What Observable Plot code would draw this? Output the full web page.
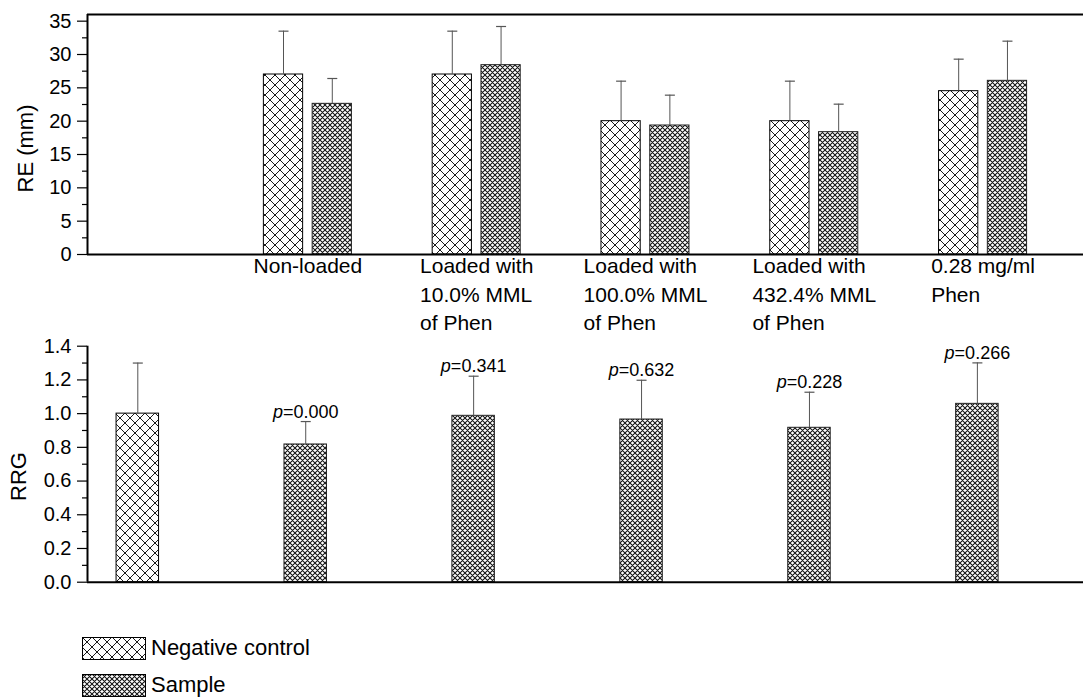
<!DOCTYPE html>
<html><head><meta charset="utf-8">
<script src="https://cdn.jsdelivr.net/npm/d3@7"></script>
<script src="https://cdn.jsdelivr.net/npm/@observablehq/plot@0.6"></script>
<style>
body{margin:0;background:#fff;font-family:"Liberation Sans",Arial,Helvetica,sans-serif;}
#wrap{position:relative;width:1083px;height:698px;overflow:hidden;background:#fff;}
#wrap > svg{display:block;overflow:visible;}
#wrap g[aria-label="y-axis tick label"], #wrap g[aria-label="y-axis tick label"] text{font-size:20px !important;}
#legend{position:absolute;left:82px;top:637px;}
#legend .item{display:flex;align-items:center;height:22px;margin-bottom:15px;font-size:22px;color:#000;}
#legend .item svg{display:block;margin-right:5px;}
</style></head><body><div id="wrap"></div>
<script>
// ---- data ----
const groups = ["Non-loaded", "Loaded with\n10.0% MML\nof Phen", "Loaded with\n100.0% MML\nof Phen", "Loaded with\n432.4% MML\nof Phen", "0.28 mg/ml\nPhen"];
const reNC = [27.0, 27.0, 20.0, 20.0, 24.5];
const reNCsd = [6.5, 6.5, 6.0, 6.0, 4.8];
const reS = [22.6, 28.4, 19.35, 18.35, 26.05];
const reSsd = [3.8, 5.8, 4.55, 4.2, 5.95];
const rrgNC = 1.0;
const rrgNCsd = 0.30;
const rrgS = [0.817, 0.987, 0.965, 0.916, 1.058];
const rrgSsd = [0.136, 0.235, 0.233, 0.211, 0.243];
const pValues = ["0.000", "0.341", "0.632", "0.228", "0.266"];
const seriesNames = ["Negative control", "Sample"];
const reTicks = [0, 5, 10, 15, 20, 25, 30, 35];
const rrgTicks = [0, 0.2, 0.4, 0.6, 0.8, 1.0, 1.2, 1.4];

const FONT = '"Liberation Sans",Arial,Helvetica,sans-serif';
const TICKFS = 20;
const wrap = document.getElementById("wrap");

// ---- hatch patterns ----
const defsSvg = d3.select(wrap).append("svg").attr("width", 0).attr("height", 0)
  .style("position", "absolute").style("left", 0).style("top", 0);
const defs = defsSvg.append("defs");
function hatch(id, s, sw, color) {
  const p = defs.append("pattern").attr("id", id).attr("patternUnits", "userSpaceOnUse")
    .attr("width", s).attr("height", s);
  p.append("rect").attr("width", s).attr("height", s).attr("fill", "#fff");
  const w = 1;
  p.append("path")
    .attr("d", `M0,0L${s},${s}M${s},0L0,${s}` +
      `M${s-w},${-w}L${s+w},${w}M${-w},${s-w}L${w},${s+w}` +
      `M${-w},${w}L${w},${-w}M${s-w},${s+w}L${s+w},${s-w}`)
    .attr("stroke", color).attr("stroke-width", sw).attr("fill", "none");
}
hatch("hNC", 10, 0.9, "#000");
hatch("hS", 5, 1.05, "#111");

const cap = { draw(ctx, size) { const r = Math.sqrt(size / Math.PI); ctx.moveTo(-r, 0); ctx.lineTo(r, 0); } };

// ---- top chart ----
const topRows = groups.flatMap((g, i) => [
  { i: i + 1, s: "NC", v: reNC[i], e: reNCsd[i] },
  { i: i + 1, s: "S", v: reS[i], e: reSsd[i] }
]);
const off = { NC: -0.1445, S: 0.1445 };
const hw = 0.2325 / 2;
const topX0 = -0.3057, topX1 = 5.595;
const cx = d => d.i + off[d.s];

const topChart = Plot.plot({
  width: 1083, height: 338, marginLeft: 87, marginRight: 0, marginTop: 14, marginBottom: 84,
  style: { fontFamily: FONT, fontSize: TICKFS + "px", background: "#fff", color: "#000", overflow: "visible" },
  x: { type: "linear", domain: [topX0, topX1], axis: null },
  y: { domain: [0, 36], label: null, axis: null },
  marks: [
    Plot.rectY(topRows.filter(d => d.s === "NC"), { x1: d => cx(d) - hw, x2: d => cx(d) + hw, y1: 0, y2: "v", fill: "url(#hNC)", stroke: "#000", strokeWidth: 1 }),
    Plot.rectY(topRows.filter(d => d.s === "S"), { x1: d => cx(d) - hw, x2: d => cx(d) + hw, y1: 0, y2: "v", fill: "url(#hS)", stroke: "#222", strokeWidth: 1 }),
    Plot.ruleX(topRows, { x: cx, y1: "v", y2: d => d.v + d.e, stroke: "#555", strokeWidth: 1 }),
    Plot.dot(topRows, { x: cx, y: d => d.v + d.e, symbol: cap, r: 5, stroke: "#555", fill: "none", strokeWidth: 1.2 }),
    Plot.axisY({ ticks: reTicks, tickSize: 10, tickPadding: 6, label: null, fontSize: TICKFS, strokeWidth: 1.2 }),
    Plot.axisY({ ticks: d3.range(2.5, 36, 5), tickSize: 5, tickFormat: () => "", label: null, strokeWidth: 1.2 }),
    Plot.ruleX([topX0], { strokeWidth: 2 }),
    Plot.ruleY([0, 36], { strokeWidth: 2 }),
    Plot.text(groups, { x: (d, i) => i + 1, y: 0, text: d => d, lineAnchor: "top", textAnchor: "start", dy: -1.3, fontSize: 21, lineHeight: 1.35, className: "catlab" }),
    Plot.text(["RE (mm)"], { frameAnchor: "left", textAnchor: "middle", rotate: -90, dx: -61.5, dy: 14, fontSize: 22 })
  ]
});
wrap.appendChild(topChart);

// ---- bottom chart ----
const botRows = [{ i: 0, s: "NC", v: rrgNC, e: rrgNCsd, p: null }].concat(
  rrgS.map((v, k) => ({ i: k + 1, s: "S", v, e: rrgSsd[k], p: pValues[k] })));
const botX0 = -0.2996, botX1 = 5.632;
const bhw = 0.253 / 2;
const botChart = Plot.plot({
  width: 1083, height: 260, marginLeft: 87, marginRight: 0, marginTop: 7.7, marginBottom: 16.3,
  style: { fontFamily: FONT, fontSize: TICKFS + "px", background: "#fff", color: "#000", overflow: "visible" },
  x: { type: "linear", domain: [botX0, botX1], axis: null },
  y: { domain: [0, 1.4], label: null, axis: null },
  marks: [
    Plot.rectY(botRows.filter(d => d.s === "NC"), { x1: d => d.i - bhw, x2: d => d.i + bhw, y1: 0, y2: "v", fill: "url(#hNC)", stroke: "#000", strokeWidth: 1 }),
    Plot.rectY(botRows.filter(d => d.s === "S"), { x1: d => d.i - bhw, x2: d => d.i + bhw, y1: 0, y2: "v", fill: "url(#hS)", stroke: "#222", strokeWidth: 1 }),
    Plot.ruleX(botRows, { x: "i", y1: "v", y2: d => d.v + d.e, stroke: "#555", strokeWidth: 1 }),
    Plot.dot(botRows, { x: "i", y: d => d.v + d.e, symbol: cap, r: 5, stroke: "#555", fill: "none", strokeWidth: 1.2 }),
    Plot.text(botRows.filter(d => d.p), { x: "i", y: d => d.v + d.e, text: d => "p=" + d.p, lineAnchor: "bottom", textAnchor: "middle", dy: -4, fontSize: 18, className: "plab" }),
    Plot.axisY({ ticks: rrgTicks, tickSize: 10, tickPadding: 6, tickFormat: d3.format(".1f"), label: null, fontSize: TICKFS, strokeWidth: 1.2 }),
    Plot.axisY({ ticks: d3.range(0.1, 1.4, 0.2), tickSize: 5, tickFormat: () => "", label: null, strokeWidth: 1.2 }),
    Plot.ruleX([botX0], { strokeWidth: 2 }),
    Plot.ruleY([0], { strokeWidth: 2 }),
    Plot.text(["RRG"], { frameAnchor: "left", textAnchor: "middle", rotate: -90, dx: -69, dy: 12.3, fontSize: 22 })
  ]
});
wrap.appendChild(botChart);

// center multi-line category blocks (lines left-aligned, block centred on group)
topChart.querySelectorAll("g.catlab text").forEach(t => {
  const w = t.getBBox().width;
  t.setAttribute("transform", `translate(${-w / 2},0) ` + (t.getAttribute("transform") || ""));
});
// italic p in p-value labels
botChart.querySelectorAll("g.plab text").forEach(t => {
  const s = t.textContent;
  t.textContent = "";
  const ns = "http://www.w3.org/2000/svg";
  const ts = document.createElementNS(ns, "tspan");
  ts.setAttribute("font-style", "italic");
  ts.textContent = s.slice(0, 1);
  t.appendChild(ts);
  t.appendChild(document.createTextNode(s.slice(1)));
});

// ---- legend ----
const legend = d3.select(wrap).append("div").attr("id", "legend");
seriesNames.forEach((name, k) => {
  const item = legend.append("div").attr("class", "item");
  const sv = item.append("svg").attr("width", 64).attr("height", 23);
  sv.append("rect").attr("x", 0.5).attr("y", 0.5).attr("width", 63).attr("height", 22)
    .attr("fill", k === 0 ? "url(#hNC)" : "url(#hS)").attr("stroke", "#000");
  item.append("span").text(name);
});
</script>
</body></html>
